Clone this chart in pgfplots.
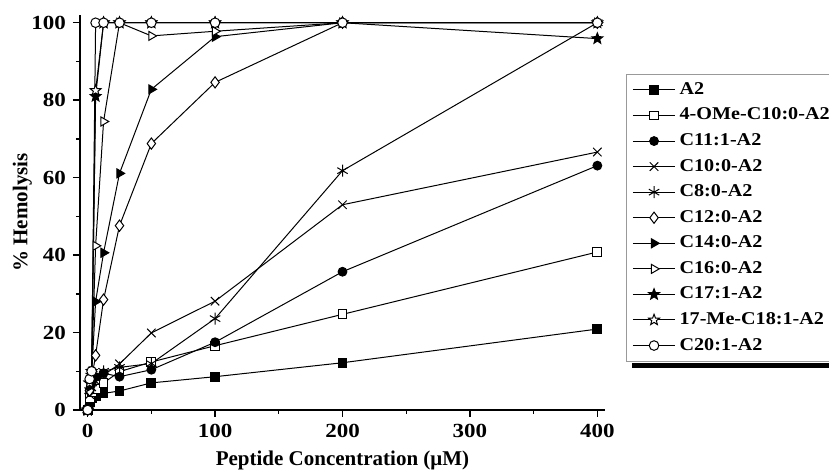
\documentclass[border=0pt]{standalone}
\usepackage{fontspec}
\setmainfont{Liberation Serif}
\newfontfamily\legfont[FakeStretch=1.12]{Liberation Serif}
\newfontfamily\tickfont[FakeStretch=1.15]{Liberation Serif}
\usepackage{pgfplots}
\pgfplotsset{compat=1.18}
\usetikzlibrary{calc}

% filled / open five-pointed star
\pgfdeclareplotmark{fstar}{%
  \pgfpathmoveto{\pgfpointpolar{90}{1.3\pgfplotmarksize}}%
  \pgfpathlineto{\pgfpointpolar{126}{0.55\pgfplotmarksize}}%
  \pgfpathlineto{\pgfpointpolar{162}{1.3\pgfplotmarksize}}%
  \pgfpathlineto{\pgfpointpolar{198}{0.55\pgfplotmarksize}}%
  \pgfpathlineto{\pgfpointpolar{234}{1.3\pgfplotmarksize}}%
  \pgfpathlineto{\pgfpointpolar{270}{0.55\pgfplotmarksize}}%
  \pgfpathlineto{\pgfpointpolar{306}{1.3\pgfplotmarksize}}%
  \pgfpathlineto{\pgfpointpolar{342}{0.55\pgfplotmarksize}}%
  \pgfpathlineto{\pgfpointpolar{18}{1.3\pgfplotmarksize}}%
  \pgfpathlineto{\pgfpointpolar{54}{0.55\pgfplotmarksize}}%
  \pgfpathclose
  \pgfusepathqfillstroke}

\begin{document}
\begin{tikzpicture}
\begin{axis}[
    scale only axis,
    width=262.5pt, height=197.5pt,
    xmin=-6, xmax=406, ymin=0, ymax=102,
    axis x line*=bottom, axis y line*=left,
    axis line style={line width=0.8pt},
    clip=false,
    xtick={0,100,200,300,400}, minor xtick={50,150,250,350},
    ytick={0,20,40,60,80,100}, minor ytick={10,30,50,70,90},
    tick align=outside, major tick length=3.5pt, minor tick length=2pt,
    tick style={black, line width=0.7pt},
    /pgf/number format/assume math mode=true,
    tick label style={font=\tickfont\bfseries\fontsize{10}{12}\selectfont},
    label style={font=\bfseries\fontsize{10.5}{12}\selectfont},
    xlabel={Peptide Concentration (μM)},
    ylabel={\% Hemolysis},
    ylabel style={at={(axis description cs:-0.11,0.5)}, anchor=center},
    every axis plot/.append style={black, line width=0.5pt, mark size=2.2pt},
    every axis plot post/.append style={legend image code/.code={%
        \draw[mark repeat=2,mark phase=2] plot coordinates {(0cm,0cm) (0.37cm,0cm) (0.74cm,0cm)};}},
    legend style={name=leg, at={(1.04,0.8506)}, anchor=north west, draw=gray!80, fill=white,
        line width=0.5pt, row sep=1.3pt, font=\legfont\bfseries\fontsize{9}{11}\selectfont},
    legend cell align=left,
]
\addplot[mark=square*, mark options={solid, fill=black}] coordinates {
  (0,0) (1.56,2) (3.125,3) (6.25,3.6) (12.5,4.3) (25,4.9) (50,7.0) (100,8.6) (200,12.2) (400,20.9)};
\addplot[mark=square*, mark options={solid, fill=white}] coordinates {
  (0,0) (1.56,3) (3.125,4.5) (6.25,5.5) (12.5,7) (25,9.9) (50,12.4) (100,16.6) (200,24.7) (400,40.8)};
\addplot[mark=*, mark options={solid, fill=black}] coordinates {
  (0,0) (1.56,5) (3.125,7) (6.25,8.5) (12.5,9.5) (25,8.6) (50,10.4) (100,17.5) (200,35.7) (400,63.1)};
\addplot[mark=x, mark size=3pt, mark options={solid}] coordinates {
  (0,0) (1.56,4) (3.125,6) (6.25,7.5) (12.5,9) (25,11.9) (50,19.9) (100,28.1) (200,53) (400,66.6)};
\addplot[mark=asterisk, mark size=3pt, mark options={solid}] coordinates {
  (0,0) (1.56,5) (3.125,7) (6.25,8.5) (12.5,10) (25,11) (50,12) (100,23.6) (200,61.8) (400,100)};
\addplot[mark=diamond*, mark size=2.8pt, mark options={solid, fill=white}] coordinates {
  (0,0) (1.56,5) (3.125,8) (6.25,14.1) (12.5,28.5) (25,47.6) (50,68.8) (100,84.6) (200,100) (400,100)};
\addplot[mark=triangle*, mark size=2.6pt, mark options={solid, fill=black, rotate=-90}] coordinates {
  (0,0) (1.56,6) (3.125,9) (6.25,28) (12.5,40.6) (25,61.1) (50,82.8) (100,96.4) (200,100) (400,100)};
\addplot[mark=triangle*, mark size=2.6pt, mark options={solid, fill=white, rotate=-90}] coordinates {
  (0,0) (1.56,7) (3.125,10) (6.25,42.4) (12.5,74.5) (25,100) (50,96.6) (100,97.8) (200,100) (400,100)};
\addplot[mark=fstar, mark options={solid, fill=black}] coordinates {
  (0,0) (1.56,7) (3.125,9) (6.25,81) (12.5,100) (25,100) (50,100) (100,100) (200,100) (400,95.9)};
\addplot[mark=fstar, mark options={solid, fill=white}] coordinates {
  (0,0) (1.56,7) (3.125,10) (6.25,82.5) (12.5,100) (25,100) (50,100) (100,100) (200,100) (400,100)};
\addplot[mark=*, mark size=2.4pt, mark options={solid, fill=white}] coordinates {
  (0,0) (1.56,8) (3.125,10) (6.25,100) (12.5,100) (25,100) (50,100) (100,100) (200,100) (400,100)};
\legend{A2, 4-OMe-C10:0-A2, C11:1-A2, C10:0-A2, C8:0-A2, C12:0-A2, C14:0-A2, C16:0-A2, C17:1-A2, 17-Me-C18:1-A2, C20:1-A2}
\end{axis}
% shadow bar under the legend
\fill[black] ($(leg.south west)+(3pt,-0.8pt)$) rectangle ($(leg.south east)+(3pt,-3.3pt)$);
\pgfresetboundingbox
\path[use as bounding box] ($(current axis.south west)+(-40pt,-32pt)$) rectangle ++(414.5pt,237pt);
\end{tikzpicture}
\end{document}
